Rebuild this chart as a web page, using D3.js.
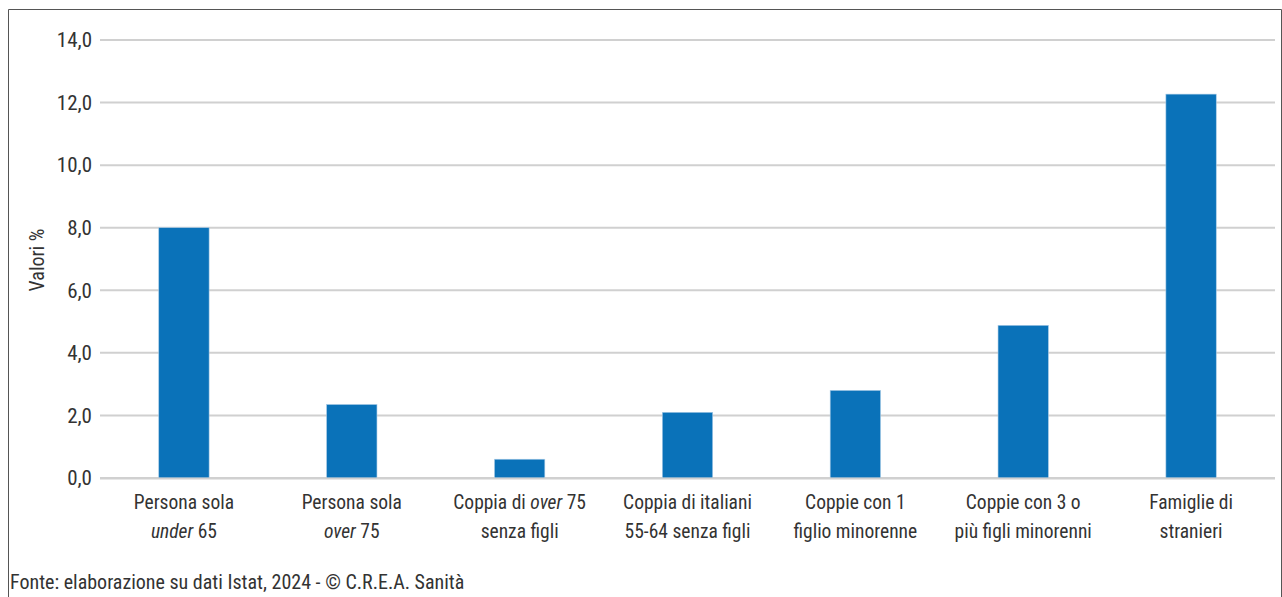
<!DOCTYPE html>
<html><head><meta charset="utf-8">
<script src="https://cdn.jsdelivr.net/npm/d3@7"></script>
<style>
body{margin:0;background:#fff;}
text{font-family:"Liberation Sans Narrow","Arial Narrow","Roboto Condensed",sans-serif;fill:#333;}
</style></head><body>
<svg id="c" width="1282" height="597"></svg>
<script>
const categories = [
  ["Persona sola", [["under",true],[" 65",false]]],
  ["Persona sola", [["over",true],[" 75",false]]],
  [[["Coppia di ",false],["over",true],[" 75",false]], "senza figli"],
  ["Coppia di italiani", "55-64 senza figli"],
  ["Coppie con 1", "figlio minorenne"],
  ["Coppie con 3 o", "più figli minorenni"],
  ["Famiglie di", "stranieri"]
];
const values = [8.0, 2.35, 0.6, 2.1, 2.8, 4.88, 12.27];
const yTicks = [0, 2, 4, 6, 8, 10, 12, 14];
const yTitle = "Valori %";
const source = "Fonte: elaborazione su dati Istat, 2024 - © C.R.E.A. Sanità";

const svg = d3.select("#c");
const W = 1282, H = 597;
const m = {left:100, right:1275, top:40, bottom:478};

// frame
svg.append("path").attr("d", `M8.5,${H} V9.5 H1281.5 V${H}`)
  .attr("fill","none").attr("stroke","#555").attr("stroke-width",1);

const x = d3.scaleBand().domain(d3.range(values.length)).range([m.left, m.right]).paddingInner(0.7).paddingOuter(0.35);
const y = d3.scaleLinear().domain([0,14]).range([m.bottom, m.top]);

const fmt = d => d3.format(".1f")(d).replace(".", ",");

// grid
svg.append("g").selectAll("line").data(yTicks).join("line")
  .attr("x1", m.left).attr("x2", m.right)
  .attr("y1", d=>y(d)).attr("y2", d=>y(d))
  .attr("stroke","#d0d0d0").attr("stroke-width", 2);

// y labels
svg.append("g").selectAll("text").data(yTicks).join("text")
  .attr("x", 92).attr("y", d=>y(d)).attr("dy","0.35em")
  .attr("text-anchor","end").attr("font-size",21).text(fmt);

// y title
svg.append("text").attr("transform","translate(44,260) rotate(-90)")
  .attr("text-anchor","middle").attr("font-size",20).text(yTitle);

// bars
svg.append("g").selectAll("rect").data(values).join("rect")
  .attr("x",(d,i)=>x(i)).attr("width",x.bandwidth())
  .attr("y",d=>y(d)).attr("height",d=>y(0)-y(d))
  .attr("fill","#0a72b9").attr("stroke","#a9cbe6").attr("stroke-width",0.6);

// baseline
svg.append("line").attr("x1",m.left).attr("x2",m.right).attr("y1",y(0)+0.5).attr("y2",y(0)+0.5)
  .attr("stroke","#d0d0d0").attr("stroke-width",2);

// x labels
const xl = svg.append("g");
categories.forEach((lines,i)=>{
  const cx = x(i)+x.bandwidth()/2;
  lines.forEach((ln,j)=>{
    const t = xl.append("text").attr("x",cx).attr("y",509+j*29)
      .attr("text-anchor","middle").attr("font-size",19.5);
    if (typeof ln === "string") t.text(ln);
    else ln.forEach(([s,it])=>t.append("tspan").attr("font-style",it?"italic":"normal").text(s));
  });
});

// source
svg.append("text").attr("x",10).attr("y",589).attr("font-size",20).text(source);
</script></body></html>
